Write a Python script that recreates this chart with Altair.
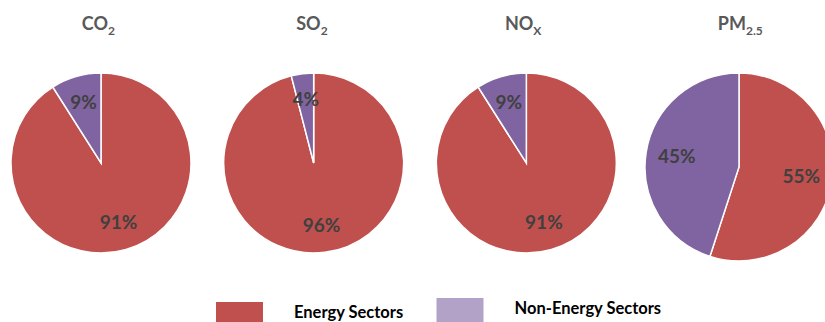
import altair as alt
import pandas as pd

# ---- data ----
pollutants = ["CO2", "SO2", "NOX", "PM2.5"]
title_main = ["CO", "SO", "NO", "PM"]
title_sub = ["2", "2", "X", "2.5"]
sectors = ["Energy Sectors", "Non-Energy Sectors"]
energy_share = [91, 96, 91, 55]
non_energy_share = [9, 4, 9, 45]
pie_colors = ["#C0504D", "#8064A2"]
legend_colors = ["#C0504D", "#B3A2C7"]

rows = []
for p, e, n in zip(pollutants, energy_share, non_energy_share):
    rows.append({"pollutant": p, "sector": sectors[0], "order": 0, "value": e})
    rows.append({"pollutant": p, "sector": sectors[1], "order": 1, "value": n})
df = pd.DataFrame(rows)
titles = pd.DataFrame({"pollutant": pollutants, "main": title_main, "sub": title_sub})
legend_df = pd.DataFrame({"label": sectors, "color": legend_colors})

FONT = "Lato"

x_scale = alt.Scale(type="point", domain=pollutants, range=[101, 739], padding=0)
y_scale = alt.Scale(type="point", domain=["small", "big"], range=[163, 167], padding=0)
theta_scale = alt.Scale(domain=[0, 100])

base = alt.Chart(df).transform_window(
    end="sum(value)", groupby=["pollutant"], sort=[alt.SortField("order")], frame=[None, 0]
).transform_calculate(
    start="datum.end - datum.value",
    mid="datum.end - datum.value / 2",
    grp="datum.pollutant === 'PM2.5' ? 'big' : 'small'",
    rr="datum.pollutant === 'PM2.5' ? 94 : 90",
    label="datum.value + '%'",
)

arcs = base.mark_arc(stroke="white", strokeWidth=1.5).encode(
    x=alt.X("pollutant:N", scale=x_scale, axis=None),
    y=alt.Y("grp:N", scale=y_scale, axis=None),
    theta=alt.Theta("start:Q", scale=theta_scale),
    theta2=alt.Theta2("end:Q"),
    radius=alt.Radius("rr:Q", scale=None),
    color=alt.Color("sector:N", scale=alt.Scale(domain=sectors, range=pie_colors), legend=None),
)

labels = base.mark_text(font=FONT, fontWeight="bold", fontSize=19, color="#404040").encode(
    x=alt.X("pollutant:N", scale=x_scale, axis=None),
    y=alt.Y("grp:N", scale=y_scale, axis=None),
    theta=alt.Theta("mid:Q", scale=theta_scale),
    radius=alt.value(63),
    text="label:N",
)

t_main = alt.Chart(titles).mark_text(
    font=FONT, fontWeight="bold", fontSize=18, color="#595959",
    align="right", baseline="alphabetic", dx=7,
).encode(
    x=alt.X("pollutant:N", scale=x_scale, axis=None),
    y=alt.value(30),
    text="main:N",
)

t_sub = alt.Chart(titles).mark_text(
    font=FONT, fontWeight="bold", fontSize=12, color="#595959",
    align="left", baseline="alphabetic", dx=7, dy=5,
).encode(
    x=alt.X("pollutant:N", scale=x_scale, axis=None),
    y=alt.value(30),
    text="sub:N",
)

pies = alt.layer(arcs, labels, t_main, t_sub)

lx = alt.Scale(type="point", domain=sectors, range=[239.5, 460], padding=0)
ly = alt.Scale(type="point", domain=sectors, range=[315, 311], padding=0)

leg_rect = alt.Chart(legend_df).mark_point(
    shape="M-1,-0.553H1V0.553H-1Z", size=2209, filled=True, opacity=1, strokeWidth=0
).encode(
    x=alt.X("label:N", scale=lx, axis=None),
    y=alt.Y("label:N", scale=ly, axis=None),
    color=alt.Color("color:N", scale=None),
)

leg_text = alt.Chart(legend_df).mark_text(
    font=FONT, fontWeight="bold", fontSize=16.5, color="#000000",
    align="left", baseline="alphabetic", dx=54.5, dy=2.5,
).encode(
    x=alt.X("label:N", scale=lx, axis=None),
    y=alt.Y("label:N", scale=ly, axis=None),
    text="label:N",
)

legend = alt.layer(leg_rect, leg_text)

chart = alt.layer(pies, legend).resolve_scale(
    x="independent", y="independent", color="independent"
).properties(
    width=825, height=322, padding=0, autosize="none"
).configure_view(stroke=None)

chart.save("out.html", embed_options={"renderer": "svg", "actions": False})
